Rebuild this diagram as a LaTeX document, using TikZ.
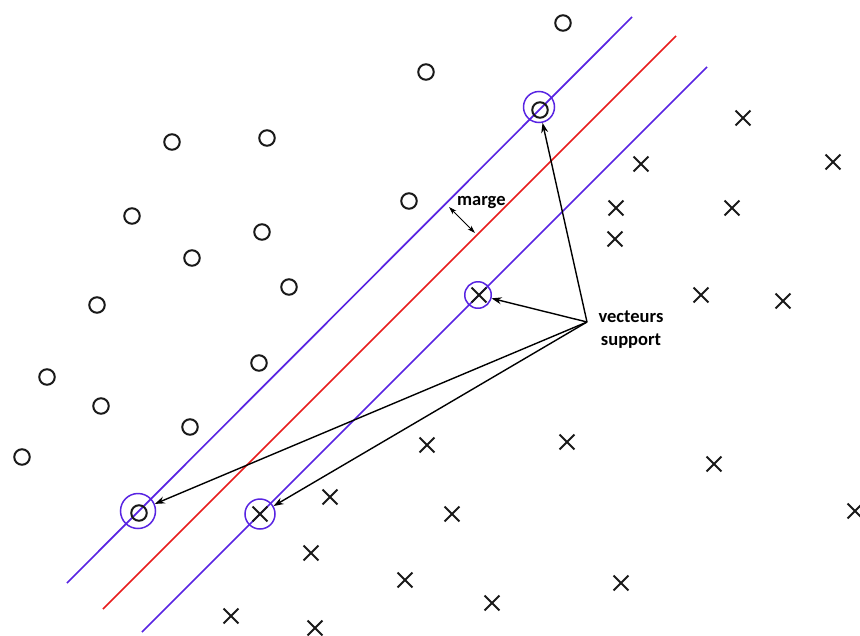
\documentclass[tikz,border=0pt]{standalone}
\usepackage{fontspec}
\setmainfont{Carlito}
\usetikzlibrary{shapes.misc,arrows.meta}
\definecolor{svmblue}{RGB}{88,36,226}
\definecolor{svmred}{RGB}{232,28,28}
\tikzset{
  opt/.style={circle,draw=black!90,line width=2pt,minimum size=15.5pt,inner sep=0pt},
  xpt/.style={cross out,draw=black!90,line width=1.9pt,minimum size=13pt,inner sep=0pt},
  sv/.style={circle,draw=svmblue,line width=1.5pt,inner sep=0pt},
  hyper/.style={line width=1.7pt},
  svarrow/.style={-{Stealth[length=10pt,width=7pt]},line width=1.4pt,black},
  lbl/.style={font=\fontsize{18.5}{23}\selectfont\bfseries,inner sep=0pt}
}
\begin{document}
\begin{tikzpicture}[x=1pt,y=-1pt]
\useasboundingbox (0,0) rectangle (860,635);
% hyperplanes
\coordinate (u1) at (67,583); \coordinate (u2) at (632,17);
\coordinate (r1) at (103,609); \coordinate (r2) at (676,36);
\coordinate (l1) at (142,632); \coordinate (l2) at (707,67);
\draw[hyper,svmblue] (u1) -- (u2);
\draw[hyper,svmred] (r1) -- (r2);
\draw[hyper,svmblue] (l1) -- (l2);
% class o
\foreach \n/\x/\y in {o1/563/23,o2/426/72,o3/172/142,o4/267/138,o5/132/216,o6/262/232,
  o7/409/201,o8/192/258,o9/289/287,o10/97/305,o11/259/363,o12/47/377,o13/101/406,
  o14/190/427,o15/22/457,os1/540/110,os2/139/513}
  \node[opt] (\n) at (\x,\y) {};
% class x
\foreach \n/\x/\y in {x1/743/118,x2/641/164,x3/833/162,x4/616/208,x5/732/208,x6/615/239,
  x7/701/295,x8/783/301,x9/427/445,x10/567/442,x11/714/464,x12/330/497,x13/452/514,
  x14/855/511,x15/311/553,x16/405/580,x17/621/583,x18/492/603,x19/231/616,x20/315/628,
  xs1/479/295,xs2/260/514}
  \node[xpt] (\n) at (\x,\y) {};
% support vector rings
\node[sv,minimum size=31pt] (sv1) at (539,107) {};
\node[sv,minimum size=26.5pt] (sv2) at (478,295) {};
\node[sv,minimum size=35pt] (sv3) at (138,511) {};
\node[sv,minimum size=30pt] (sv4) at (260,514) {};
% label and arrows
\coordinate (src) at (587,322);
\node[lbl,align=center] (vs) at (631,330) {vecteurs\\support};
\draw[svarrow] (src) -- (sv1);
\draw[svarrow] (src) -- (sv2);
\draw[svarrow] (src) -- (sv3);
\draw[svarrow] (src) -- (sv4);
% margin
\coordinate (m1) at (449,207); \coordinate (m2) at (475,233);
\draw[{Stealth[length=8pt,width=5pt]}-{Stealth[length=8pt,width=5pt]},line width=0.8pt] (m1) -- (m2);
\node[lbl,anchor=base west] (marge) at (457,205) {marge};
\end{tikzpicture}
\end{document}
